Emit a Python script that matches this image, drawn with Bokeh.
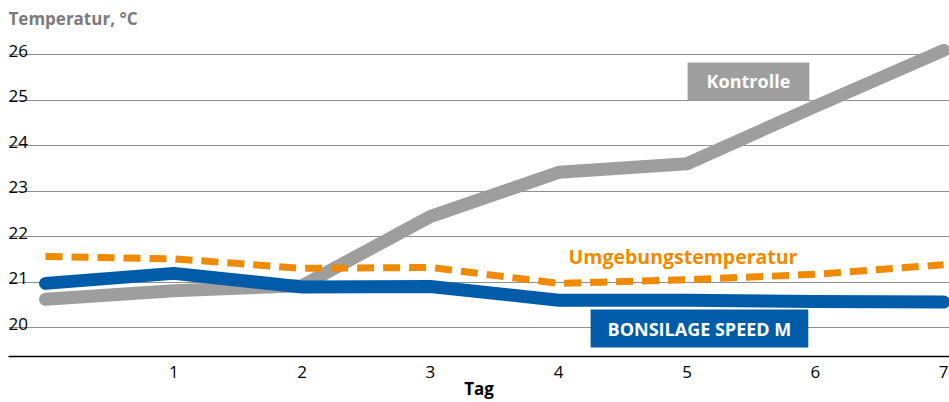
from bokeh.plotting import figure
from bokeh.models import Label, ColumnDataSource, FixedTicker
from bokeh.core.properties import value
from bokeh.embed import file_html
from bokeh.resources import INLINE

# ---- data ----
days = [0, 1, 2, 3, 4, 5, 6, 7]
kontrolle = [20.62, 20.81, 20.92, 22.44, 23.41, 23.60, 24.86, 26.09]
bonsilage = [20.97, 21.19, 20.89, 20.90, 20.60, 20.60, 20.57, 20.56]
umgebung = [21.56, 21.51, 21.30, 21.32, 20.97, 21.05, 21.17, 21.38]

x_ticks = [1, 2, 3, 4, 5, 6, 7]
y_ticks = [20, 21, 22, 23, 24, 25, 26]
y_tick_labels = ["20", "21", "22", "23", "24", "25", "26"]

title_text = "Temperatur, °C"
x_label = "Tag"
name_kontrolle = "Kontrolle"
name_bonsilage = "BONSILAGE SPEED M"
name_umgebung = "Umgebungstemperatur"

GRAY = "#9d9e9d"
BLUE = "#005ca9"
ORANGE = "#f08a00"
FONT = "Open Sans"

X0, X1 = -0.2884, 7.046
Y0, Y1 = 19.363, 27.187

p = figure(width=949, height=402, output_backend="svg", toolbar_location=None,
           x_range=(X0, X1), y_range=(Y0, Y1),
           min_border_left=8, min_border_right=0, min_border_top=0, min_border_bottom=0)
p.outline_line_color = None
p.background_fill_color = "white"
p.border_fill_color = "white"

# axes
p.yaxis.visible = False
p.ygrid.ticker = FixedTicker(ticks=y_ticks)
p.ygrid.grid_line_color = "#8f8f8f"
p.ygrid.grid_line_width = 1
p.xgrid.grid_line_color = None

ax = p.xaxis[0]
ax.ticker = FixedTicker(ticks=x_ticks)
ax.major_tick_line_color = None
ax.minor_tick_line_color = None
ax.axis_line_color = "black"
ax.axis_line_width = 1.5
ax.major_label_text_font = FONT
ax.major_label_text_font_size = "17px"
ax.major_label_text_color = "black"
ax.major_label_standoff = 3
ax.axis_label = x_label
ax.axis_label_text_font = FONT
ax.axis_label_text_font_size = "17px"
ax.axis_label_text_font_style = "bold"
ax.axis_label_text_color = "black"
ax.axis_label_standoff = -4

# y tick labels inside the plot, above grid lines
ysrc = ColumnDataSource(dict(x=[X0] * len(y_ticks), y=y_ticks, t=y_tick_labels))
p.text(x="x", y="y", text="t", source=ysrc, text_font=value(FONT),
       text_font_size="17px", text_color="black", text_baseline="alphabetic",
       text_align="left", y_offset=-4)

# lines
p.line(days, kontrolle, line_color=GRAY, line_width=13, line_cap="round", line_join="round")
p.line(days, bonsilage, line_color=BLUE, line_width=13, line_cap="round", line_join="round")
p.line(days, umgebung, line_color=ORANGE, line_width=7, line_dash="17 9", line_join="round")

# title
p.add_layout(Label(x=X0, y=26.79, text=title_text, text_font=FONT, text_font_size="17px",
                   text_font_style="bold", text_color="#7b7b7b", text_baseline="middle",
                   text_align="left"))

# series labels
p.add_layout(Label(x=5.479, y=25.407, text=name_kontrolle, text_font=FONT, text_font_size="18px",
                   text_font_style="bold", text_color="white", text_align="center",
                   text_baseline="middle", background_fill_color=GRAY, padding=(19, 7)))
p.add_layout(Label(x=5.097, y=19.978, text=name_bonsilage, text_font=FONT, text_font_size="18px",
                   text_font_style="bold", text_color="white", text_align="center",
                   text_baseline="middle", background_fill_color=BLUE, padding=(17, 7)))
p.add_layout(Label(x=5.861, y=21.56, text=name_umgebung, text_font=FONT, text_font_size="19.5px",
                   text_font_style="bold", text_color=ORANGE, text_align="right",
                   text_baseline="middle"))

open("out.html", "w").write(file_html(p, INLINE))
